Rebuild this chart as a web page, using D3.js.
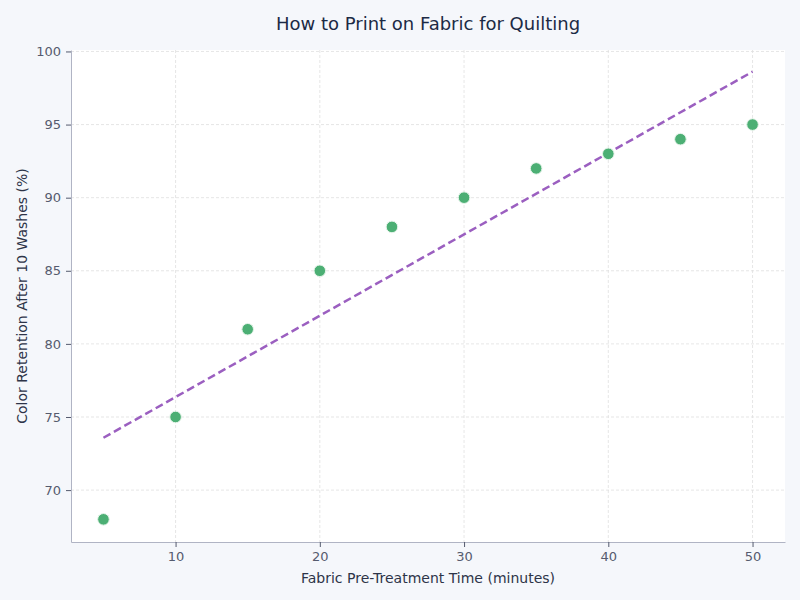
<!DOCTYPE html>
<html>
<head>
<meta charset="utf-8">
<script src="https://cdn.jsdelivr.net/npm/d3@7"></script>
<style>
  body { margin: 0; background: #f5f7fb; }
  svg { display: block; font-family: "DejaVu Sans", sans-serif; }
</style>
</head>
<body>
<svg id="chart" width="800" height="600"></svg>
<script>
// data
var minutes   = [5, 10, 15, 20, 25, 30, 35, 40, 45, 50];
var retention = [68, 75, 81, 85, 88, 90, 92, 93, 94, 95];
var xTicks = [10, 20, 30, 40, 50];
var yTicks = [70, 75, 80, 85, 90, 95, 100];

var W = 800, H = 600;
var m = {top: 50, right: 15, bottom: 58, left: 71};

var svg = d3.select('#chart');
svg.append('rect').attr('width', W).attr('height', H).attr('fill', '#f5f7fb');

var x = d3.scaleLinear().domain([2.75, 52.25]).range([m.left, W - m.right]);
var y = d3.scaleLinear().domain([66.45, 100.1]).range([H - m.bottom, m.top]);

// plot background
svg.append('rect')
	.attr('x', m.left).attr('y', m.top)
	.attr('width', W - m.left - m.right).attr('height', H - m.top - m.bottom)
	.attr('fill', '#ffffff');

// grid
var grid = svg.append('g').attr('class', 'grid');
grid.selectAll('line.gx').data(xTicks).enter().append('line')
	.attr('x1', function(d){ return x(d); }).attr('x2', function(d){ return x(d); })
	.attr('y1', m.top).attr('y2', H - m.bottom)
	.attr('stroke', '#e0e0e0').attr('stroke-width', 0.8).attr('stroke-dasharray', '3,2');
grid.selectAll('line.gy').data(yTicks).enter().append('line')
	.attr('y1', function(d){ return y(d); }).attr('y2', function(d){ return y(d); })
	.attr('x1', m.left).attr('x2', W - m.right)
	.attr('stroke', '#e0e0e0').attr('stroke-width', 0.8).attr('stroke-dasharray', '3,2');

// axes
var xAxis = svg.append('g')
	.attr('transform', 'translate(0,' + (H - m.bottom) + ')')
	.call(d3.axisBottom(x).tickValues(xTicks).tickSize(5).tickPadding(5).tickSizeOuter(0));
var yAxis = svg.append('g')
	.attr('transform', 'translate(' + m.left + ',0)')
	.call(d3.axisLeft(y).tickValues(yTicks).tickSize(5).tickPadding(5).tickSizeOuter(0));
[xAxis, yAxis].forEach(function(a){
	a.select('.domain').attr('stroke', '#b0b4c4');
	a.selectAll('.tick line').attr('stroke', '#555b6e');
	a.selectAll('.tick text').attr('fill', '#555b6e').attr('font-size', 13).attr('font-family', '"DejaVu Sans", sans-serif');
});

// least-squares trend line
var mx = d3.mean(minutes), my = d3.mean(retention);
var sxy = d3.sum(minutes, function(v, i){ return (v - mx) * (retention[i] - my); });
var sxx = d3.sum(minutes, function(v){ return (v - mx) * (v - mx); });
var slope = sxy / sxx, icpt = my - slope * mx;
var trend = [d3.min(minutes), d3.max(minutes)].map(function(v){ return [v, icpt + slope * v]; });

svg.append('path')
	.datum(trend)
	.attr('fill', 'none')
	.attr('stroke', '#9b5fc0')
	.attr('stroke-width', 2.5)
	.attr('stroke-dasharray', '8,4')
	.attr('d', d3.line().x(function(d){ return x(d[0]); }).y(function(d){ return y(d[1]); }));

// points
svg.append('g').selectAll('circle')
	.data(minutes.map(function(v, i){ return {x: v, y: retention[i]}; }))
	.enter().append('circle')
	.attr('cx', function(d){ return x(d.x); })
	.attr('cy', function(d){ return y(d.y); })
	.attr('r', 5.8)
	.attr('fill', '#4caf74')
	.attr('stroke', '#e8f5ec')
	.attr('stroke-width', 1);

// titles
svg.append('text')
	.attr('x', (W) / 2 + 28).attr('y', 30)
	.attr('text-anchor', 'middle')
	.attr('font-size', 18)
	.attr('fill', '#1c2a45')
	.text('How to Print on Fabric for Quilting');

svg.append('text')
	.attr('x', (m.left + W - m.right) / 2).attr('y', 583)
	.attr('text-anchor', 'middle')
	.attr('font-size', 14)
	.attr('fill', '#2d3448')
	.text('Fabric Pre-Treatment Time (minutes)');

svg.append('text')
	.attr('transform', 'translate(27,' + ((m.top + H - m.bottom) / 2) + ') rotate(-90)')
	.attr('text-anchor', 'middle')
	.attr('font-size', 14)
	.attr('fill', '#2d3448')
	.text('Color Retention After 10 Washes (%)');
</script>
</body>
</html>
